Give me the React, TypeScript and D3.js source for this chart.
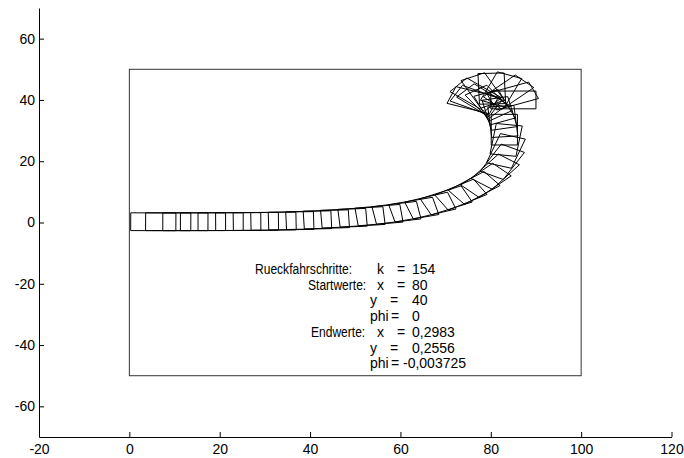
import React, { useEffect, useRef } from "react";
import * as d3 from "d3";

const WIDTH = 684;
const HEIGHT = 458;

const xTicks = [-20, 0, 20, 40, 60, 80, 100, 120];
const yTicks = [-60, -40, -20, 0, 20, 40, 60];

// truck pose at each plotted step: rear x, rear y, heading (deg)
const truckX = [
  80.0, 80.2, 80.4, 80.4, 80.4, 80.4, 80.5, 80.7, 81.2, 81.8, 82.3, 82.7, 83.0, 83.1,
  83.0, 82.7, 81.8, 80.2, 78.0, 75.4, 72.4, 69.1, 65.6, 61.9, 58.1, 54.2, 50.3, 46.4,
  42.5, 38.6, 34.7, 30.8, 26.9, 23.0, 19.1, 15.2, 11.3, 7.4, 3.6, 0.3,
];
const truckY = [
  40.0, 39.4, 39.0, 38.8, 38.7, 38.6, 38.5, 38.2, 37.5, 36.4, 34.9, 33.0, 30.7, 28.0,
  25.3, 22.0, 18.6, 15.4, 12.6, 10.2, 8.2, 6.5, 5.1, 3.9, 3.0, 2.3, 1.8, 1.4,
  1.1, 0.8, 0.6, 0.45, 0.35, 0.3, 0.28, 0.27, 0.26, 0.26, 0.26, 0.26,
];
const truckPhi = [
  0, 22, 45, 68, 92, 116, 140, 160, 152, 138, 124, 112, 102, 95,
  90, 82, 72, 62, 53, 45, 38, 31, 25, 19, 14, 10, 7, 5,
  3.5, 2.5, 1.8, 1.2, 0.8, 0.5, 0.3, 0.1, 0, -0.1, -0.2, -0.2,
];

const TRUCK_LEN = 10;
const TRUCK_WID = 5.8;

const noteLabels = ["Rueckfahrschritte:", "Startwerte:", "", "", "Endwerte:", "", ""];
const noteVars = ["k", "x", "y", "phi", "x", "y", "phi"];
const noteValues = ["154", "80", "40", "0", "0,2983", "0,2556", "-0,003725"];

export default function App() {
  const ref = useRef<SVGSVGElement>(null);

  useEffect(() => {
    const svg = d3.select(ref.current);
    svg.selectAll("*").remove();
    const font = "'Liberation Sans', Arial, Helvetica, sans-serif";
    const fs = 14;

    const x = d3.scaleLinear().domain([-20, 120]).range([39, 671.5]);
    const y = d3.scaleLinear().domain([-70, 70]).range([437, 8]);

    const gx = svg
      .append("g")
      .attr("transform", `translate(0,${y(-70)})`)
      .call(d3.axisBottom(x).tickValues(xTicks).tickSize(-5).tickSizeOuter(0).tickPadding(7).tickFormat((d) => String(d)));
    const gy = svg
      .append("g")
      .attr("transform", `translate(${x(-20)},0)`)
      .call(d3.axisLeft(y).tickValues(yTicks).tickSize(-5).tickSizeOuter(0).tickPadding(4).tickFormat((d) => String(d)));
    [gx, gy].forEach((g) => {
      g.attr("font-family", font).attr("font-size", fs);
      g.selectAll("text").attr("fill", "#000");
      g.selectAll("line, path").attr("stroke", "#000");
    });

    // parking area
    svg
      .append("rect")
      .attr("x", x(0))
      .attr("y", y(50))
      .attr("width", x(100) - x(0))
      .attr("height", y(-50) - y(50))
      .attr("fill", "none")
      .attr("stroke", "#333")
      .attr("stroke-width", 1);

    const outline = d3
      .line<[number, number]>()
      .x((d) => x(d[0]))
      .y((d) => y(d[1]))
      .curve(d3.curveLinearClosed);

    const h = TRUCK_WID / 2;
    const trucks = truckX.map((px, i) => {
      const a = (truckPhi[i] * Math.PI) / 180;
      const c = Math.cos(a);
      const s = Math.sin(a);
      const py = truckY[i];
      return [
        [px - s * h, py + c * h],
        [px + s * h, py - c * h],
        [px + s * h + c * TRUCK_LEN, py - c * h + s * TRUCK_LEN],
        [px - s * h + c * TRUCK_LEN, py + c * h + s * TRUCK_LEN],
      ] as [number, number][];
    });

    svg
      .append("g")
      .selectAll("path")
      .data(trucks)
      .join("path")
      .attr("d", (d) => outline(d))
      .attr("fill", "none")
      .attr("stroke", "#000")
      .attr("stroke-width", 1);

    // result text (glyphs in the original are narrower than Arial)
    const note = svg.append("g").attr("font-family", font).attr("font-size", fs).attr("fill", "#000");
    const squeeze = 0.86;
    const top = 274;
    const rowGap = 15.7;
    const labelStart: Record<number, number> = { 0: 255, 1: 308, 4: 311 };
    noteVars.forEach((v, i) => {
      const by = top + i * rowGap;
      const wide = noteLabels[i] !== "";
      if (wide) {
        const t = note.append("text").attr("x", labelStart[i]).attr("y", by).text(noteLabels[i]);
        const w = (t.node() as SVGTextElement).getComputedTextLength();
        t.attr("textLength", w * squeeze).attr("lengthAdjust", "spacingAndGlyphs");
      }
      const vx = wide ? 377 : 370;
      note.append("text").attr("x", vx).attr("y", by).text(v);
      const eqx = v === "phi" ? 391 : wide ? 397 : 390;
      note.append("text").attr("x", eqx).attr("y", by).text("=");
      const val = noteValues[i];
      note.append("text").attr("x", val.startsWith("-") ? 403 : 412).attr("y", by).text(val);
    });
  }, []);

  return (
    <svg
      ref={ref}
      width={WIDTH}
      height={HEIGHT}
      style={{ position: "absolute", left: 0, top: 0, background: "#fff" }}
    />
  );
}
